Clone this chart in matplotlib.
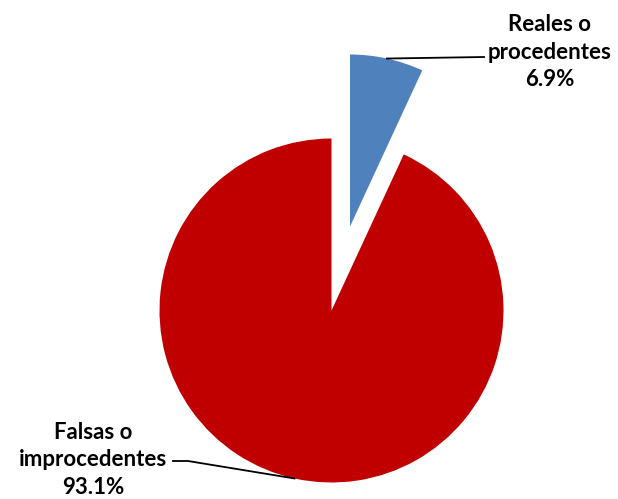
import numpy as np
import matplotlib
matplotlib.use("Agg")
import matplotlib.pyplot as plt

labels = ["Reales o\nprocedentes", "Falsas o\nimprocedentes"]
values = [6.9, 93.1]
colors = ["#4F81BD", "#C00000"]
explode = [0.5, 0.0]

W, H = 618, 499
R = 172.0  # pixel radius
cx, cy = 331.5, 310.5  # pixel center (from top-left)

fig = plt.figure(figsize=(W / 100, H / 100), dpi=100)
ax = fig.add_axes([0, 0, 1, 1])

wedges, _ = ax.pie(values, colors=colors, explode=explode, startangle=90,
                   counterclock=False, radius=1.0, center=(0, 0),
                   wedgeprops=dict(linewidth=0))
ax.set_xlim(-cx / R, (W - cx) / R)
ax.set_ylim(-(H - cy) / R, cy / R)
ax.set_aspect("equal")
ax.axis("off")


def px(x, y):
    return (x - cx) / R, (cy - y) / R


font = dict(family=["Lato", "DejaVu Sans"], fontweight="bold", fontsize=16,
            ha="center", va="center", linespacing=1.36, color="#000000")

for i, w in enumerate(wedges):
    mid = np.deg2rad((w.theta1 + w.theta2) / 2)
    ox, oy = w.center
    ex, ey = ox + np.cos(mid), oy + np.sin(mid)
    txt = f"{labels[i]}\n{values[i]:.1f}%"
    if i == 0:
        tx, ty = px(550, 52)
        ax.text(tx, ty, txt, **font)
        lx, ly = px(484, 57)
        ax.plot([ex, lx], [ey, ly], color="black", lw=1.3)
    else:
        tx, ty = px(93, 460)
        ax.text(tx, ty, txt, **font)
        l1 = px(173, 461)
        l2 = px(188, 461)
        ax.plot([l1[0], l2[0], ex], [l1[1], l2[1], ey], color="black", lw=1.3)

fig.savefig("out.png", dpi=100, facecolor="white")
